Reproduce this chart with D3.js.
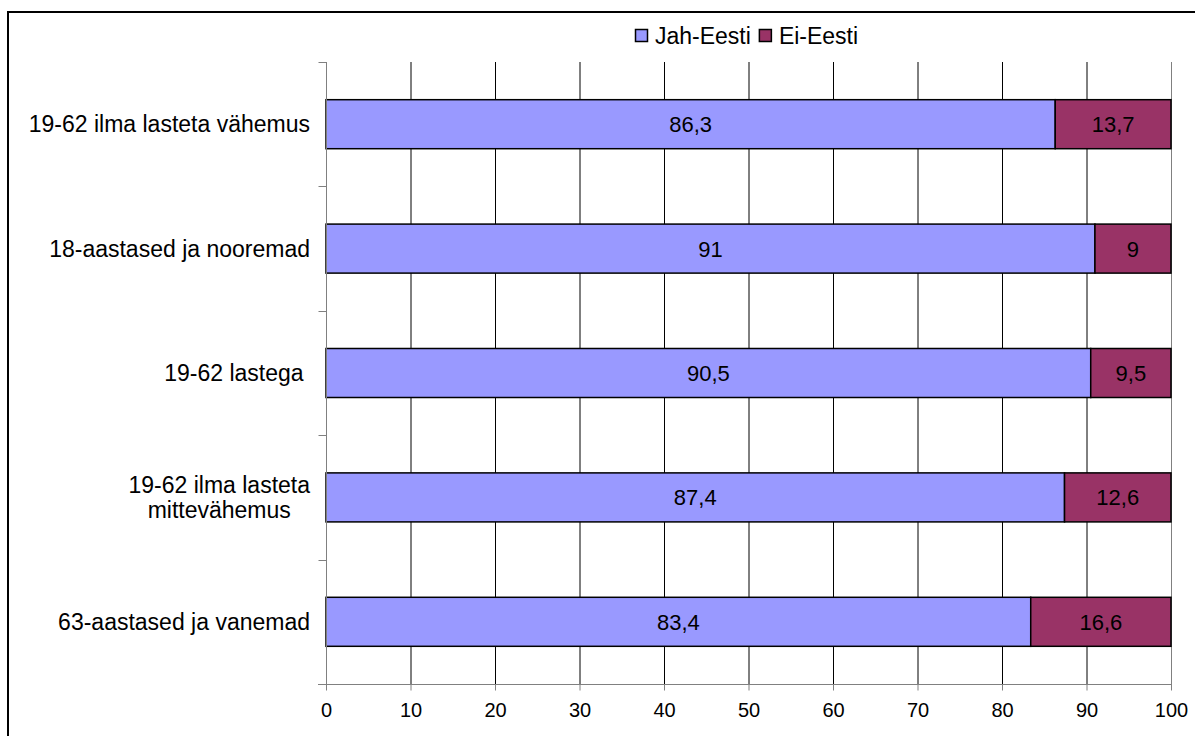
<!DOCTYPE html>
<html><head><meta charset="utf-8">
<script src="https://cdn.jsdelivr.net/npm/d3@7"></script>
<style>body{margin:0;background:#fff}svg{display:block}text{font-family:"Liberation Sans",Arial,sans-serif;fill:#000}</style>
</head><body>
<svg id="c" width="1195" height="736"></svg>
<script>
const categories = ["19-62 ilma lasteta vähemus", "18-aastased ja nooremad", "19-62 lastega ", "19-62 ilma lasteta\nmittevähemus", "63-aastased ja vanemad"];
const jahValues = [86.3, 91, 90.5, 87.4, 83.4];
const eiValues = [13.7, 9, 9.5, 12.6, 16.6];
const seriesNames = ["Jah-Eesti", "Ei-Eesti"];
const seriesColors = ["#9999FF", "#993366"];
const xTicks = [0,10,20,30,40,50,60,70,80,90,100];

const svg = d3.select("#c");
const L = 326, R = 1171, T = 62, B = 684;

svg.append("rect").attr("x",8).attr("y",12).attr("width",1300).attr("height",900)
  .attr("fill","none").attr("stroke","#000").attr("stroke-width",2);

const x = d3.scaleLinear().domain([0,100]).range([L,R]);
const y = d3.scaleBand().domain(categories).range([T,B]).paddingInner(0.606).paddingOuter(0.303);
const yb = d3.scaleBand().domain(categories).range([T,B]);

// gridlines
svg.append("g").selectAll("line").data(xTicks.filter(d=>d>0 && d<100)).join("line")
  .attr("x1",d=>x(d)+0.5).attr("x2",d=>x(d)+0.5).attr("y1",T).attr("y2",B)
  .attr("stroke","#000").attr("stroke-width",1);
svg.append("line").attr("x1",x(100)+0.5).attr("x2",x(100)+0.5).attr("y1",T).attr("y2",B)
  .attr("stroke","#808080").attr("stroke-width",1);

// bars
const rows = categories.map((c,i)=>({c, v:[jahValues[i], eiValues[i]]}));
const fmt = v => String(v).replace(".", ",");
rows.forEach(r=>{
  let acc = 0;
  r.v.forEach((v,k)=>{
    const x0 = x(acc), x1 = x(acc+v);
    svg.append("rect").attr("x",x0).attr("y",y(r.c)).attr("width",x1-x0).attr("height",y.bandwidth())
      .attr("fill",seriesColors[k]).attr("stroke","#000").attr("stroke-width",1.5);
    svg.append("text").attr("x",(x0+x1)/2).attr("y",y(r.c)+y.bandwidth()/2).attr("dy","0.36em")
      .attr("text-anchor","middle").style("font-size","22px").text(fmt(v));
    acc += v;
  });
});

// x axis
const xa = svg.append("g").attr("transform",`translate(0,${B+0.5})`)
  .call(d3.axisBottom(x).tickValues(xTicks).tickSize(6).tickPadding(12).tickSizeOuter(0));
xa.select(".domain").attr("stroke","#808080").attr("d",`M${L-8},0H${R+1}`);
xa.selectAll(".tick line").attr("stroke","#808080");
xa.selectAll(".tick text").style("font-size","20px").attr("font-family",null);

// y axis
const ya = svg.append("g").attr("transform",`translate(${L+0.5},0)`);
ya.append("line").attr("x1",0).attr("x2",0).attr("y1",T).attr("y2",B).attr("stroke","#808080");
const bounds = categories.map(c=>yb(c)).concat([B]);
ya.selectAll("line.t").data(bounds).join("line").attr("class","t")
  .attr("x1",-8).attr("x2",0).attr("y1",d=>Math.round(d)+0.5).attr("y2",d=>Math.round(d)+0.5).attr("stroke","#808080");

// category labels
categories.forEach(c=>{
  const lines = c.split("\n");
  const cy = y(c)+y.bandwidth()/2;
  const lh = 25;
  const ts = lines.map((ln,i)=>svg.append("text").attr("text-anchor","middle")
      .style("font-size","23px").style("white-space","pre")
      .attr("y", cy + (i-(lines.length-1)/2)*lh).attr("dy","0.36em").text(ln));
  const w = d3.max(ts, t=>t.node().getComputedTextLength());
  ts.forEach(t=>t.attr("x", 310 - w/2));
});

// legend
const lg = svg.append("g");
let lx = 635;
seriesNames.forEach((n,k)=>{
  lg.append("rect").attr("x",lx+0.5).attr("y",29.5).attr("width",12).attr("height",12)
    .attr("fill",seriesColors[k]).attr("stroke","#000").attr("stroke-width",1.5);
  const t = lg.append("text").attr("x",lx+20).attr("y",36).attr("dy","0.36em").style("font-size","23px").text(n);
  lx += 20 + t.node().getComputedTextLength() + 8;
});
</script>
</body></html>
